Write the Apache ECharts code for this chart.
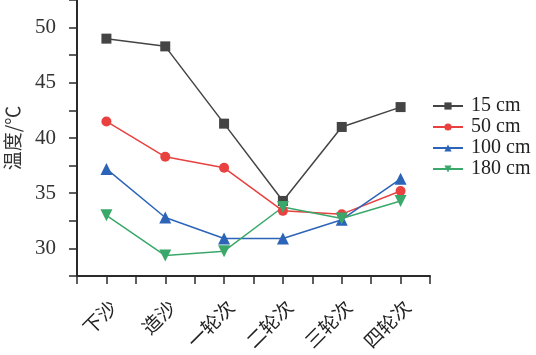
<!DOCTYPE html>
<html><head><meta charset="utf-8">
<script src="https://cdn.jsdelivr.net/npm/echarts@6/dist/echarts.min.js"></script>
<style>html,body{margin:0;padding:0;background:#fff}#c{width:536px;height:355px}</style>
</head><body><div id="c"></div>
<script>
const categories = ['下沙','造沙','一轮次','二轮次','三轮次','四轮次'];
const s15 = [49.0, 48.3, 41.3, 34.3, 41.0, 42.8];
const s50 = [41.5, 38.3, 37.3, 33.4, 33.1, 35.2];
const s100 = [37.2, 32.8, 30.9, 30.9, 32.6, 36.3];
const s180 = [33.0, 29.35, 29.75, 33.75, 32.7, 34.3];
const seriesNames = ['15 cm','50 cm','100 cm','180 cm'];
const yLabels = [30, 35, 40, 45, 50];

const chart = echarts.init(document.getElementById('c'));
const axisColor = '#2a2a2a';
const serif = 'Liberation Serif';
function mk(name, data, color, symbol, size, rot) {
  return {name, type:'line', data, symbol, symbolSize:size, symbolRotate:rot||0,
    xAxisIndex:0,
    lineStyle:{color, width:1.5}, itemStyle:{color}};
}
chart.setOption({
  animation:false,
  backgroundColor:'#fff',
  grid:{left:77, right:106, top:0, bottom:79, containLabel:false, outerBoundsMode:'none'},
  legend:{orient:'vertical', left:427, top:91, itemWidth:30, itemHeight:9, itemGap:1,
    textStyle:{fontFamily:serif, fontSize:20, lineHeight:20, color:'#222', padding:[0,0,0,3]},
    data:seriesNames},
  xAxis:[{type:'category', data:categories, boundaryGap:true,
    axisLine:{lineStyle:{color:axisColor, width:2}},
    axisTick:{show:true, length:8, lineStyle:{color:axisColor, width:1.5}},
    axisLabel:{rotate:45, fontFamily:'Noto Sans CJK SC', fontSize:19, color:'#222', margin:21, verticalAlign:'top'}},
   {type:'category', data:categories, boundaryGap:true, position:'bottom',
    axisLine:{show:false}, axisLabel:{show:false},
    axisTick:{show:true, alignWithLabel:true, length:8, lineStyle:{color:axisColor, width:1.5}}}],
  yAxis:{type:'value', min:27.5, max:52.5, interval:2.5,
    name:'温度/℃', nameLocation:'middle', nameGap:55, nameRotate:90,
    nameTextStyle:{fontFamily:'Noto Sans CJK SC', fontSize:19, color:'#333'},
    axisLine:{show:true, lineStyle:{color:axisColor, width:2}},
    axisTick:{show:true, length:8, lineStyle:{color:axisColor, width:1.5}},
    splitLine:{show:false},
    axisLabel:{fontFamily:serif, fontSize:21, color:'#333', margin:21,
      formatter:v => yLabels.indexOf(v) >= 0 ? String(v) : ''}},
  series:[
    mk(seriesNames[0], s15, '#444444', 'rect', 10),
    mk(seriesNames[1], s50, '#e8413f', 'circle', 10),
    mk(seriesNames[2], s100, '#2c64b8', 'triangle', 12),
    mk(seriesNames[3], s180, '#3aa86a', 'triangle', 12, 180)
  ]
});
</script></body></html>
